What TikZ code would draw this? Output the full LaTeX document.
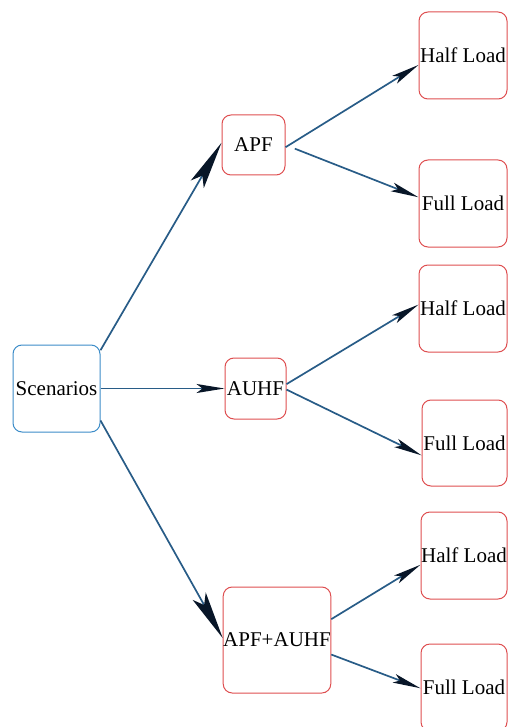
\documentclass[tikz,border=0pt]{standalone}
\usepackage{fontspec}
\setmainfont{Liberation Serif}
\usetikzlibrary{arrows.meta}
\definecolor{linkblue}{RGB}{40,92,135}
\definecolor{tipnavy}{RGB}{8,22,40}
\definecolor{boxred}{RGB}{222,78,80}
\definecolor{boxblue}{RGB}{60,140,200}
\tikzset{
  box/.style={draw=boxred, rounded corners=9pt, line width=1pt, inner sep=0pt, font=\fontsize{21}{25}\selectfont},
  rootbox/.style={box, draw=boxblue},
  loadbox/.style={box, minimum width=87pt, minimum height=87pt},
  link/.style={draw=linkblue, line width=1.7pt, -{Stealth[length=28pt,width=9pt,inset=6pt,color=tipnavy]}},
  biglink/.style={link, -{Stealth[length=48pt,width=15pt,inset=10pt,color=tipnavy]}},
}

\begin{document}
\begin{tikzpicture}[x=1pt,y=-1pt]
            \useasboundingbox (0,0) rectangle (507,727);
            \node [rootbox, minimum width=87pt, minimum height=87pt] (scen) at (56.5,388.5) {Scenarios};
            \node [box, minimum width=63pt, minimum height=60pt] (apf) at (253.5,145) {APF};
            \node [box, minimum width=61pt, minimum height=61pt] (auhf) at (255.5,388.5) {AUHF};
            \node [box, minimum width=106pt, minimum height=106pt] (both) at (277,640) {APF+AUHF};
            \node [loadbox, minimum width=88pt] (half1) at (463,55.5) {Half Load};
            \node [loadbox, minimum width=88pt] (full1) at (463,203.5) {Full Load};
            \node [loadbox, minimum width=88pt] (half2) at (463,308.5) {Half Load};
            \node [loadbox, minimum width=85pt, minimum height=86pt] (full2) at (464.5,443) {Full Load};
            \node [loadbox, minimum width=86pt] (half3) at (464,555.5) {Half Load};
            \node [loadbox, minimum width=86pt] (full3) at (464,687.5) {Full Load};
            \draw [biglink] (scen.41) -- (apf.176);
            \draw [link] (scen.east) -- (auhf.west);
            \draw [biglink] (scen.-36) -- (both.178);
            \draw [link] (apf.-4) -- (half1.192);
            \draw [link, shorten <=10pt] (apf.east) -- (full1.172);
            \draw [link] (auhf.8) -- (half2.175);
            \draw [link] (auhf.-2) -- (full2.196);
            \draw [link] (both.21) -- (half3.192);
            \draw [link] (both.-15) -- (full3.181);
\end{tikzpicture}
\end{document}
